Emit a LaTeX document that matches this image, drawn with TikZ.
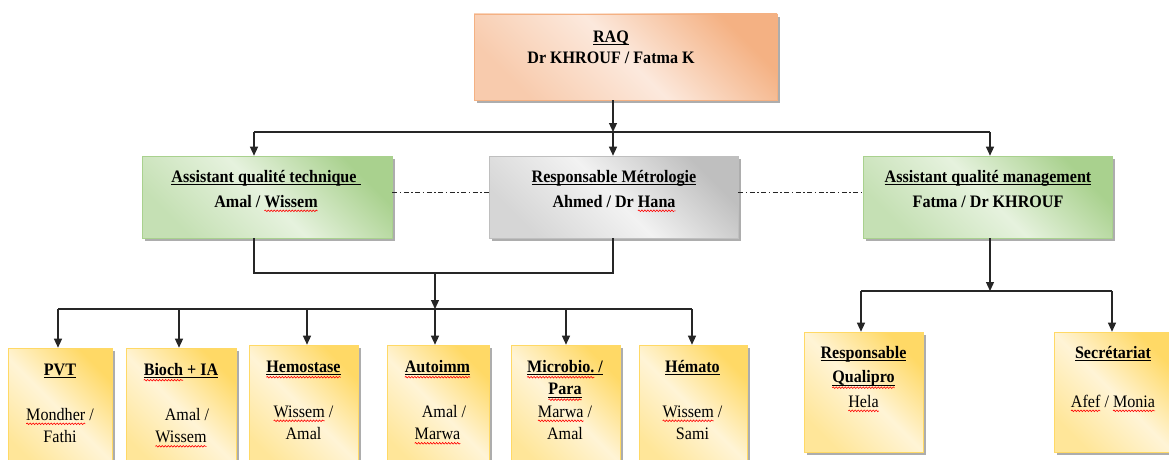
\documentclass[tikz,border=0pt]{standalone}
\usepackage{fontspec}
\setmainfont[FakeStretch=0.92]{Liberation Serif}
\usetikzlibrary{arrows.meta,shadows,decorations.pathmorphing}

% box fills
\definecolor{orD}{HTML}{F4B183}\definecolor{orM}{HTML}{F8CBAD}\definecolor{orL}{HTML}{FCE9DD}
\definecolor{grD}{HTML}{A9D18E}\definecolor{grM}{HTML}{C5E0B4}\definecolor{grL}{HTML}{E6F2DE}
\definecolor{gyD}{HTML}{BFBFBF}\definecolor{gyM}{HTML}{D6D6D6}\definecolor{gyL}{HTML}{F2F2F2}
\definecolor{yeD}{HTML}{FFD966}\definecolor{yeM}{HTML}{FFE699}\definecolor{yeL}{HTML}{FFF4D6}
\definecolor{lineC}{HTML}{262626}

% underlines and spell-check style red waves
\newsavebox\wordbox
\newcommand\ul[1]{\sbox\wordbox{#1}\rlap{\rule[-3.1pt]{\wd\wordbox}{0.9pt}}\usebox\wordbox}
\newcommand\wavebelow[2]{\rlap{\tikz[overlay,baseline=0pt]\draw[red,line width=0.6pt,decorate,
  decoration={snake,amplitude=0.8pt,segment length=3pt}] (0pt,#2) -- (#1,#2);}}
\newcommand\redsq[1]{\sbox\wordbox{#1}\edef\wordwd{\the\wd\wordbox}\wavebelow{\wordwd}{-3.6pt}\usebox\wordbox}
\newcommand\ulsq[1]{\sbox\wordbox{#1}\edef\wordwd{\the\wd\wordbox}\rlap{\rule[-3.1pt]{\wordwd}{0.9pt}}\wavebelow{\wordwd}{-5pt}\usebox\wordbox}

\tikzset{
  shbox/.style={rectangle, inner sep=0pt, line width=0.6pt,
    drop shadow={shadow xshift=3pt, shadow yshift=-3pt, fill=black!32, opacity=1}},
  orbox/.style={shbox, draw=orD, top color=orD, bottom color=orM, middle color=orL, shading angle=-45},
  grbox/.style={shbox, draw=grD, top color=grD, bottom color=grM, middle color=grL, shading angle=-45},
  gybox/.style={shbox, draw=gyD, top color=gyD, bottom color=gyM, middle color=gyL, shading angle=-45},
  yebox/.style={shbox, draw=yeD, top color=yeD, bottom color=yeM, middle color=yeL, shading angle=-45},
  txt/.style={anchor=north, inner sep=0pt, align=center, text=black},
  conn/.style={draw=lineC, line width=1.2pt},
  arr/.style={conn, -{Triangle[length=9pt,width=8pt]}},
  dashdot/.style={draw=black!85, line width=0.9pt, dash pattern=on 5pt off 2.5pt on 1.5pt off 2.5pt},
}

\begin{document}
\begin{tikzpicture}[x=1pt,y=-1pt]
\useasboundingbox (0,0) rectangle (1169,460);
\fill[white] (0,0) rectangle (1169,460);
\clip (0,0) rectangle (1169,460);

% ---- top level
\node[orbox, minimum width=303pt, minimum height=86pt] (raq) at (625.5,57) {};
\node[txt, font=\bfseries\fontsize{17.5}{21}\selectfont] (raqT) at (611,27.3)
  {\strut\ul{RAQ}\\Dr KHROUF / Fatma K};

% ---- second level
\node[grbox, minimum width=250pt, minimum height=82pt] (tech) at (267,197) {};
\node[gybox, minimum width=249pt, minimum height=82pt] (metro) at (613.5,197) {};
\node[grbox, minimum width=249pt, minimum height=82pt] (mgmt) at (987.5,197) {};
\node[txt, font=\bfseries\fontsize{17.5}{25}\selectfont] (techT) at (266,164.5)
  {\strut\ul{Assistant qualité technique\ }\\Amal / \redsq{Wissem}};
\node[txt, font=\bfseries\fontsize{17.5}{25}\selectfont] (metroT) at (614,164.5)
  {\strut\ul{Responsable Métrologie}\\Ahmed / Dr \redsq{Hana}};
\node[txt, font=\bfseries\fontsize{17.5}{25}\selectfont] (mgmtT) at (988,164.5)
  {\strut\ul{Assistant qualité management}\\Fatma / Dr KHROUF};

% ---- laboratory sections
\node[yebox, minimum width=104pt, minimum height=124pt] (pvt) at (60,410) {};
\node[yebox, minimum width=110pt, minimum height=124pt] (bio) at (181,410) {};
\node[yebox, minimum width=109pt, minimum height=127pt] (hemo) at (303.5,408.5) {};
\node[yebox, minimum width=102pt, minimum height=127pt] (auto) at (438,408.5) {};
\node[yebox, minimum width=109pt, minimum height=127pt] (micro) at (565.5,408.5) {};
\node[yebox, minimum width=108pt, minimum height=127pt] (hema) at (693,408.5) {};

\begin{scope}[every node/.append style={font=\fontsize{17.5}{22.5}\selectfont}]
\node[txt] (pvtT) at (60,359.25)
  {\strut\textbf{\ul{PVT}}\\ \\\redsq{Mondher} /\\Fathi};
\node[txt] (bioT) at (181,359.25)
  {\strut\textbf{\ulsq{Bioch}\ul{ + IA}}\\ \\\hspace*{12pt}Amal /\\\redsq{Wissem}};
\node[txt] (hemoT) at (303.5,356.25)
  {\strut\textbf{\ulsq{Hemostase}}\\ \\\redsq{Wissem} /\\Amal};
\node[txt] (autoT) at (437.5,356.25)
  {\strut\textbf{\ulsq{Autoimm}}\\ \\\hspace*{13pt}Amal /\\\redsq{Marwa}};
\node[txt] (microT) at (565,356.25)
  {\strut\textbf{\ulsq{Microbio.}\ul{ /}}\\\textbf{\ulsq{Para}}\\\redsq{Marwa} /\\Amal};
\node[txt] (hemaT) at (692.5,356.25)
  {\strut\textbf{\ul{Hémato}}\\ \\\redsq{Wissem} /\\Sami};
\end{scope}

% ---- management branch
\node[yebox, minimum width=119pt, minimum height=120pt] (quali) at (863.5,392) {};
\node[yebox, minimum width=118pt, minimum height=120pt] (secr) at (1113,392) {};
\begin{scope}[every node/.append style={font=\fontsize{17.5}{24.5}\selectfont}]
\node[txt] (qualiT) at (863.5,340.85)
  {\strut\textbf{\ul{Responsable}}\\\textbf{\ulsq{Qualipro}}\\\redsq{Hela}};
\node[txt] (secrT) at (1113,340.85)
  {\strut\textbf{\ul{Secrétariat}}\\ \\\redsq{Afef} / \redsq{Monia}};
\end{scope}

% ---- junction points
\coordinate (h1) at (613,132);
\coordinate (h1a) at (254,132);
\coordinate (h1c) at (990,132);
\coordinate (j1) at (254,273);
\coordinate (j2) at (613,273);
\coordinate (j0) at (435,273);
\coordinate (h2) at (435,309);
\coordinate (b1) at (58,309);
\coordinate (b2) at (179,309);
\coordinate (b3) at (307,309);
\coordinate (b5) at (566,309);
\coordinate (b6) at (692,309);
\coordinate (h3) at (990,291);
\coordinate (q1) at (861,291);
\coordinate (q2) at (1112,291);

% ---- connectors
\draw[arr] (raq.south -| h1) -- (h1);
\draw[conn] (h1a) -- (h1c);
\draw[arr] (h1a) -- (tech.north -| h1a);
\draw[arr] (h1) -- (metro.north -| h1);
\draw[arr] (h1c) -- (mgmt.north -| h1c);

\draw[dashdot] ([yshift=5pt]tech.east) -- ([yshift=5pt]metro.west);
\draw[dashdot] ([yshift=5pt]metro.east) -- ([yshift=5pt]mgmt.west);

\draw[conn] (tech.south -| j1) -- (j1) -- (j2) -- (metro.south -| j2);
\draw[arr] (j0) -- (h2);
\draw[conn] (b1) -- (b6);
\draw[arr] (b1) -- (pvt.north -| b1);
\draw[arr] (b2) -- (bio.north -| b2);
\draw[arr] (b3) -- (hemo.north -| b3);
\draw[arr] (h2) -- (auto.north -| h2);
\draw[arr] (b5) -- (micro.north -| b5);
\draw[arr] (b6) -- (hema.north -| b6);

\draw[arr] (mgmt.south -| h3) -- (h3);
\draw[conn] (q1) -- (q2);
\draw[arr] (q1) -- (quali.north -| q1);
\draw[arr] (q2) -- (secr.north -| q2);
\end{tikzpicture}
\end{document}
